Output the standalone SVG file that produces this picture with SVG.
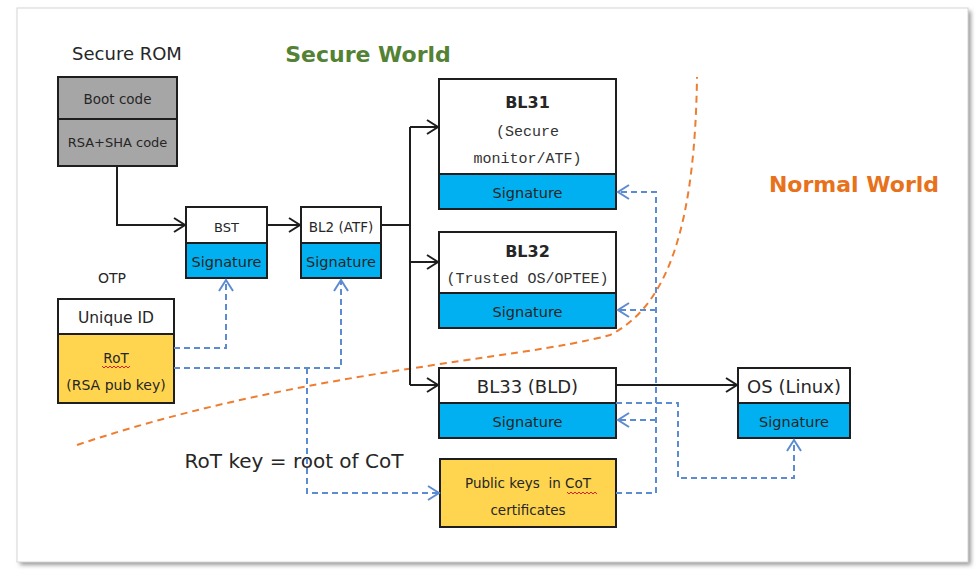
<svg xmlns="http://www.w3.org/2000/svg" width="980" height="576" viewBox="0 0 980 576">
<style>
.box{stroke:#1e1e1e;stroke-width:2}
.w{fill:#ffffff}
.g{fill:#a6a6a6}
.b{fill:#00b0f0}
.y{fill:#ffd54f}
.t{font-family:"DejaVu Sans",Verdana,sans-serif;fill:#262626;text-anchor:middle}
.m{font-family:"Liberation Mono","DejaVu Sans Mono",monospace;fill:#333;text-anchor:middle;font-size:15px}
.ln{fill:none;stroke:#1e1e1e;stroke-width:2}
.ds{fill:none;stroke:#5b8bd0;stroke-width:2;stroke-dasharray:6 4}
.sq{fill:none;stroke:#e02020;stroke-width:1}
</style>
<defs>
<marker id="ah" markerUnits="userSpaceOnUse" markerWidth="16" markerHeight="18" viewBox="-12 -9 14 18" refX="0" refY="0" orient="auto">
<path d="M-11,-7 L0,0 L-11,7" fill="none" stroke="#1e1e1e" stroke-width="2"/>
</marker>
<marker id="ab" markerUnits="userSpaceOnUse" markerWidth="16" markerHeight="18" viewBox="-12 -9 14 18" refX="0" refY="0" orient="auto">
<path d="M-11,-7 L0,0 L-11,7" fill="none" stroke="#5b8bd0" stroke-width="2"/>
</marker>
<filter id="sh" x="-5%" y="-5%" width="110%" height="110%">
<feGaussianBlur stdDeviation="2"/>
</filter>
</defs>
<rect width="980" height="576" fill="#ffffff"/>
<rect x="20" y="11" width="951" height="554" fill="#9a9a9a" filter="url(#sh)"/>
<rect x="17" y="8" width="951" height="554" fill="#ffffff" stroke="#d6d6d6" stroke-width="1"/>

<text x="127" y="60" class="t" font-size="18">Secure ROM</text>
<text x="368" y="62" font-family="DejaVu Sans,Verdana,sans-serif" font-weight="bold" font-size="22" fill="#548235" text-anchor="middle">Secure World</text>
<text x="854" y="192" font-family="DejaVu Sans,Verdana,sans-serif" font-weight="bold" font-size="22" fill="#e8711c" text-anchor="middle">Normal World</text>
<text x="112" y="283" class="t" font-size="14">OTP</text>
<text x="294" y="468" class="t" font-size="20">RoT key = root of CoT</text>

<path d="M77,445 C300,370 520,360 610,335 C670,305 695,220 697,77" fill="none" stroke="#ed7d31" stroke-width="2" stroke-dasharray="7 5"/>

<g id="secure-rom">
<rect x="58" y="77" width="119" height="42" class="box g"/>
<rect x="58" y="119" width="119" height="47" class="box g"/>
<text x="117.5" y="104" class="t" font-size="13.5">Boot code</text>
<text x="117.5" y="147" class="t" font-size="13">RSA+SHA code</text>
</g>
<g id="bst">
<rect x="186" y="207" width="81" height="36" class="box w"/>
<rect x="186" y="243" width="81" height="35" class="box b"/>
<text x="226.5" y="232" class="t" font-size="13">BST</text>
<text x="226.5" y="267" class="t" font-size="14.5">Signature</text>
</g>
<g id="bl2">
<rect x="301" y="207" width="80" height="36" class="box w"/>
<rect x="301" y="243" width="80" height="35" class="box b"/>
<text x="341" y="232" class="t" font-size="13.5">BL2 (ATF)</text>
<text x="341" y="267" class="t" font-size="14.5">Signature</text>
</g>
<g id="otp">
<rect x="58" y="299" width="116" height="35" class="box w"/>
<rect x="58" y="334" width="116" height="69" class="box y"/>
<text x="116" y="323" class="t" font-size="15.5">Unique ID</text>
<text x="116" y="363" class="t" font-size="13.5">RoT</text>
<path d="M102,366 l2,2 l2,-2 l2,2 l2,-2 l2,2 l2,-2 l2,2 l2,-2 l2,2 l2,-2 l2,2 l2,-2 l2,2 l2,-2" class="sq"/>
<text x="116" y="390" class="t" font-size="14">(RSA pub key)</text>
</g>
<g id="bl31">
<rect x="439" y="79" width="177" height="95" class="box w"/>
<rect x="439" y="174" width="177" height="35" class="box b"/>
<text x="527.5" y="108" class="t" font-size="16" font-weight="bold">BL31</text>
<text x="527.5" y="136" class="m">(Secure</text>
<text x="527.5" y="163" class="m">monitor/ATF)</text>
<text x="527.5" y="198" class="t" font-size="14.5">Signature</text>
</g>
<g id="bl32">
<rect x="439" y="232" width="177" height="61" class="box w"/>
<rect x="439" y="293" width="177" height="35" class="box b"/>
<text x="527.5" y="257" class="t" font-size="16" font-weight="bold">BL32</text>
<text x="527.5" y="283" class="m">(Trusted OS/OPTEE)</text>
<text x="527.5" y="317" class="t" font-size="14.5">Signature</text>
</g>
<g id="bl33">
<rect x="439" y="368" width="177" height="35" class="box w"/>
<rect x="439" y="403" width="177" height="35" class="box b"/>
<text x="527.5" y="393" class="t" font-size="18">BL33 (BLD)</text>
<text x="527.5" y="427" class="t" font-size="14.5">Signature</text>
</g>
<g id="os">
<rect x="738" y="368" width="112" height="35" class="box w"/>
<rect x="738" y="403" width="112" height="35" class="box b"/>
<text x="794" y="393" class="t" font-size="18">OS (Linux)</text>
<text x="794" y="427" class="t" font-size="14.5">Signature</text>
</g>
<g id="pubkeys">
<rect x="440" y="459" width="176" height="68" class="box y"/>
<text x="528" y="488" class="t" font-size="13.5" xml:space="preserve">Public keys  in CoT</text>
<path d="M567,492 l2,2 l2,-2 l2,2 l2,-2 l2,2 l2,-2 l2,2 l2,-2 l2,2 l2,-2 l2,2 l2,-2 l2,2 l2,-2 l2,2" class="sq"/>
<text x="528" y="515" class="t" font-size="13.5">certificates</text>
</g>

<g id="connectors">
<path d="M117,166 V225 H185" class="ln" marker-end="url(#ah)"/>
<path d="M267,225 H300" class="ln" marker-end="url(#ah)"/>
<path d="M381,225 H410" class="ln"/>
<path d="M410,127 V385" class="ln"/>
<path d="M410,127 H438" class="ln" marker-end="url(#ah)"/>
<path d="M410,262 H438" class="ln" marker-end="url(#ah)"/>
<path d="M410,385 H438" class="ln" marker-end="url(#ah)"/>
<path d="M616,385 H737" class="ln" marker-end="url(#ah)"/>

<path d="M174,348 H226 V280" class="ds" marker-end="url(#ab)"/>
<path d="M174,368 H341 V280" class="ds" marker-end="url(#ab)"/>
<path d="M307,368 V493 H439" class="ds" marker-end="url(#ab)"/>
<path d="M616,493 H656 V192 H618" class="ds" marker-end="url(#ab)"/>
<path d="M656,310 H618" class="ds" marker-end="url(#ab)"/>
<path d="M656,420 H618" class="ds" marker-end="url(#ab)"/>
<path d="M616,403 H678 V478 H794 V440" class="ds" marker-end="url(#ab)"/>
</g>
</svg>
